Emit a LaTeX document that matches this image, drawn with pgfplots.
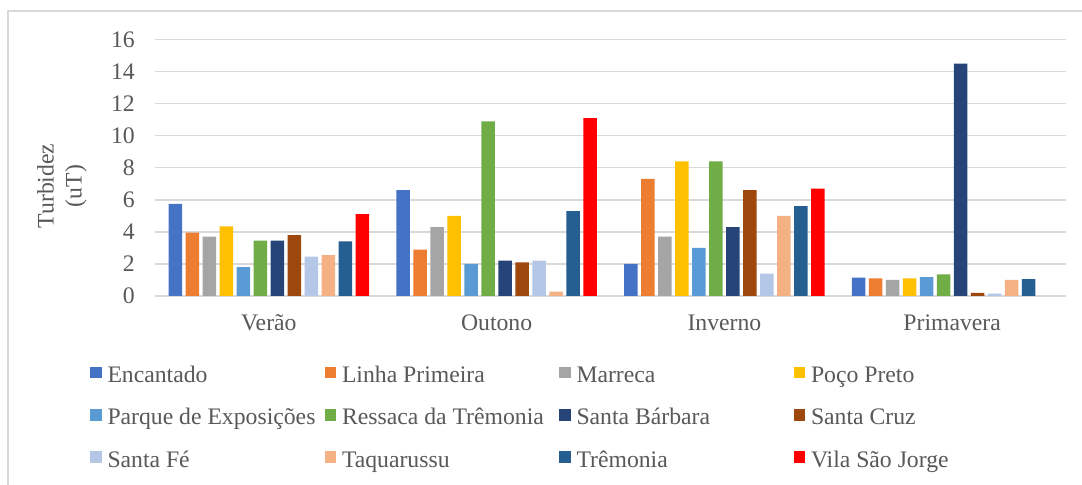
\documentclass[border=0pt]{standalone}
\usepackage{pgfplots}
\pgfplotsset{compat=1.18}
\usepackage{fontspec}
\setmainfont{Liberation Serif}

\definecolor{cEnc}{HTML}{4472C4}
\definecolor{cLin}{HTML}{ED7D31}
\definecolor{cMar}{HTML}{A5A5A5}
\definecolor{cPoc}{HTML}{FFC000}
\definecolor{cPar}{HTML}{5B9BD5}
\definecolor{cRes}{HTML}{70AD47}
\definecolor{cSBa}{HTML}{264478}
\definecolor{cSCr}{HTML}{9E480E}
\definecolor{cSFe}{HTML}{B4C7E7}
\definecolor{cTaq}{HTML}{F4B183}
\definecolor{cTre}{HTML}{255E91}
\definecolor{cVil}{HTML}{FF0000}
\definecolor{txtc}{HTML}{595959}
\definecolor{gridc}{HTML}{D9D9D9}

\newcommand{\lb}[1]{\makebox[217bp][l]{#1}}

\begin{document}
\begin{tikzpicture}
\useasboundingbox (0bp,0bp) rectangle (1082bp,485bp);
\fill[white] (0bp,0bp) rectangle (1082bp,485bp);
% chart frame
\draw[gridc, line width=1.5bp] (8bp,-10bp) -- (8bp,474bp) -- (1100bp,474bp);
% y axis title
\node[text=txtc, rotate=90, align=center, font=\fontsize{23.7bp}{28bp}\selectfont]
  at (62bp,299bp) {Turbidez\\(uT)};
\begin{axis}[
  at={(155bp,189bp)}, anchor=south west,
  scale only axis, width=911bp, height=256.5bp,
  ybar=3.5bp, bar width=13.5bp,
  xmin=-0.5, xmax=3.5, ymin=0, ymax=16,
  xtick={0,1,2,3},
  xticklabels={Verão,Outono,Inverno,Primavera},
  ytick={0,2,...,16},
  major tick length=0pt,
  axis line style={draw=none},
  ymajorgrids, grid style={draw=gridc, line width=1.5bp},
  /pgf/number format/assume math mode=true,
  tick label style={text=txtc, font=\fontsize{23.7bp}{28bp}\selectfont},
  yticklabel style={inner sep=0pt, anchor=east, xshift=-20bp},
  xticklabel style={inner sep=0pt, anchor=base, yshift=-34.5bp},
  legend columns=4,
  legend cell align=left,
  legend image code/.code={\fill[#1] (0bp,-1.7bp) rectangle (11.5bp,9.8bp);},
  legend style={
    at={(-0.07135,-0.2717)}, anchor=north west,
    draw=none, fill=none, inner sep=0pt, outer sep=0pt,
    font=\fontsize{23.7bp}{28bp}\selectfont, text=txtc,
    nodes={inner xsep=0pt, inner ysep=0pt, text height=17bp, text depth=5bp},
    /tikz/every odd column/.style={column sep=6bp},
    /tikz/every even column/.style={column sep=0bp},
    /tikz/row sep=20.3bp,
  },
  every axis plot/.append style={draw=none},
]
\addplot[fill=cEnc] coordinates {(0,5.75) (1,6.6) (2,2.0) (3,1.15)};
\addplot[fill=cLin] coordinates {(0,3.95) (1,2.9) (2,7.3) (3,1.1)};
\addplot[fill=cMar] coordinates {(0,3.7) (1,4.3) (2,3.7) (3,1.0)};
\addplot[fill=cPoc] coordinates {(0,4.35) (1,5.0) (2,8.4) (3,1.1)};
\addplot[fill=cPar] coordinates {(0,1.8) (1,2.0) (2,3.0) (3,1.17)};
\addplot[fill=cRes] coordinates {(0,3.45) (1,10.9) (2,8.4) (3,1.35)};
\addplot[fill=cSBa] coordinates {(0,3.45) (1,2.2) (2,4.3) (3,14.5)};
\addplot[fill=cSCr] coordinates {(0,3.8) (1,2.1) (2,6.6) (3,0.2)};
\addplot[fill=cSFe] coordinates {(0,2.45) (1,2.2) (2,1.4) (3,0.15)};
\addplot[fill=cTaq] coordinates {(0,2.55) (1,0.27) (2,5.0) (3,1.0)};
\addplot[fill=cTre] coordinates {(0,3.4) (1,5.3) (2,5.6) (3,1.05)};
\addplot[fill=cVil] coordinates {(0,5.1) (1,11.1) (2,6.7)};
\legend{\lb{Encantado},\lb{Linha Primeira},\lb{Marreca},\lb{Poço Preto},
  \lb{Parque de Exposições},\lb{Ressaca da Trêmonia},\lb{Santa Bárbara},\lb{Santa Cruz},
  \lb{Santa Fé},\lb{Taquarussu},\lb{Trêmonia},\lb{Vila São Jorge}}
\end{axis}
\end{tikzpicture}
\end{document}
